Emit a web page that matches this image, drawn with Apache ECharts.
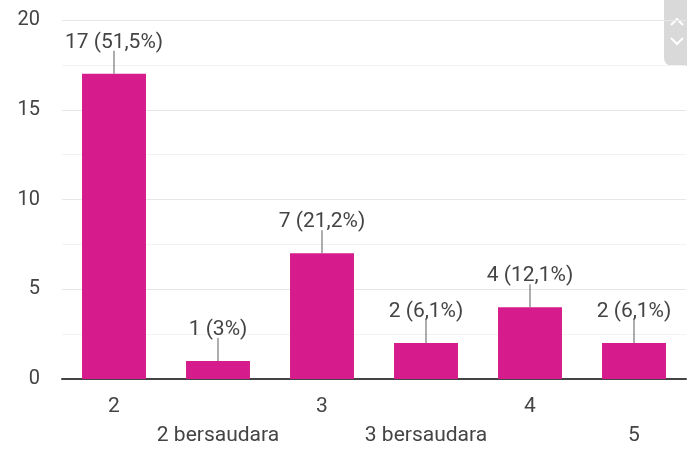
<!DOCTYPE html>
<html>
<head>
<meta charset="utf-8">
<script src="https://cdn.jsdelivr.net/npm/echarts@6/dist/echarts.min.js"></script>
<style>
  html, body { margin: 0; padding: 0; background: #fff; }
  #chart { width: 687px; height: 450px; }
</style>
</head>
<body>
<div id="chart"></div>
<script>
  // data
  const categories = ['2', '2 bersaudara', '3', '3 bersaudara', '4', '5']
  const counts = [17, 1, 7, 2, 4, 2]
  const percents = ['51,5%', '3%', '21,2%', '6,1%', '12,1%', '6,1%']
  const yTicks = [0, 5, 10, 15, 20]

  const barColor = '#d61c8c'
  const textColor = '#444'
  const font = 'Roboto, "Noto Sans", sans-serif'

  const chart = echarts.init(document.getElementById('chart'))

  const option = {
    animation: false,
    backgroundColor: '#fff',
    grid: { left: 62, right: 1, top: 20, bottom: 70 },
    xAxis: {
      type: 'category',
      data: categories,
      axisTick: { show: false },
      axisLine: { lineStyle: { color: '#444', width: 2 } },
      axisLabel: {
        interval: 0,
        color: textColor,
        fontFamily: font,
        fontSize: 21,
        lineHeight: 29,
        margin: 13,
        formatter: (v, i) => (i % 2 ? '\n' + v : v)
      }
    },
    yAxis: {
      type: 'value',
      min: yTicks[0],
      max: yTicks[yTicks.length - 1],
      interval: 5,
      axisLine: { show: false },
      axisTick: { show: false },
      axisLabel: { color: textColor, fontFamily: font, fontSize: 20, margin: 22 },
      splitLine: { lineStyle: { color: '#e6e6e6', width: 1 } },
      minorTick: { show: false, splitNumber: 2 },
      minorSplitLine: { show: true, lineStyle: { color: '#f2f2f2', width: 1 } }
    },
    series: [
      {
        type: 'bar',
        data: counts,
        barWidth: '61.5%',
        itemStyle: { color: barColor },
        label: {
          show: true,
          position: 'top',
          distance: 21,
          color: textColor,
          fontFamily: font,
          fontSize: 21,
          formatter: (p) => p.value + ' (' + percents[p.dataIndex] + ')'
        },
        z: 3
      },
      {
        // leader lines from bar tops to labels
        type: 'custom',
        data: counts.map((v, i) => [i, v]),
        renderItem: (params, api) => {
          const pt = api.coord([api.value(0), api.value(1)])
          return {
            type: 'line',
            shape: { x1: pt[0], y1: pt[1], x2: pt[0], y2: pt[1] - 23 },
            style: { stroke: '#777', lineWidth: 1.2 }
          }
        },
        z: 4,
        silent: true
      }
    ],
    graphic: [
      {
        type: 'rect',
        shape: { x: 664, y: -10, width: 30, height: 76, r: 8 },
        style: { fill: '#d9d9d9' }
      },
      {
        type: 'polyline',
        shape: { points: [[671, 25], [677, 19], [683, 25]] },
        style: { stroke: '#fff', lineWidth: 2, fill: null }
      },
      {
        type: 'polyline',
        shape: { points: [[671, 38], [677, 44], [683, 38]] },
        style: { stroke: '#fff', lineWidth: 2, fill: null }
      }
    ]
  }

  chart.setOption(option)
</script>
</body>
</html>
